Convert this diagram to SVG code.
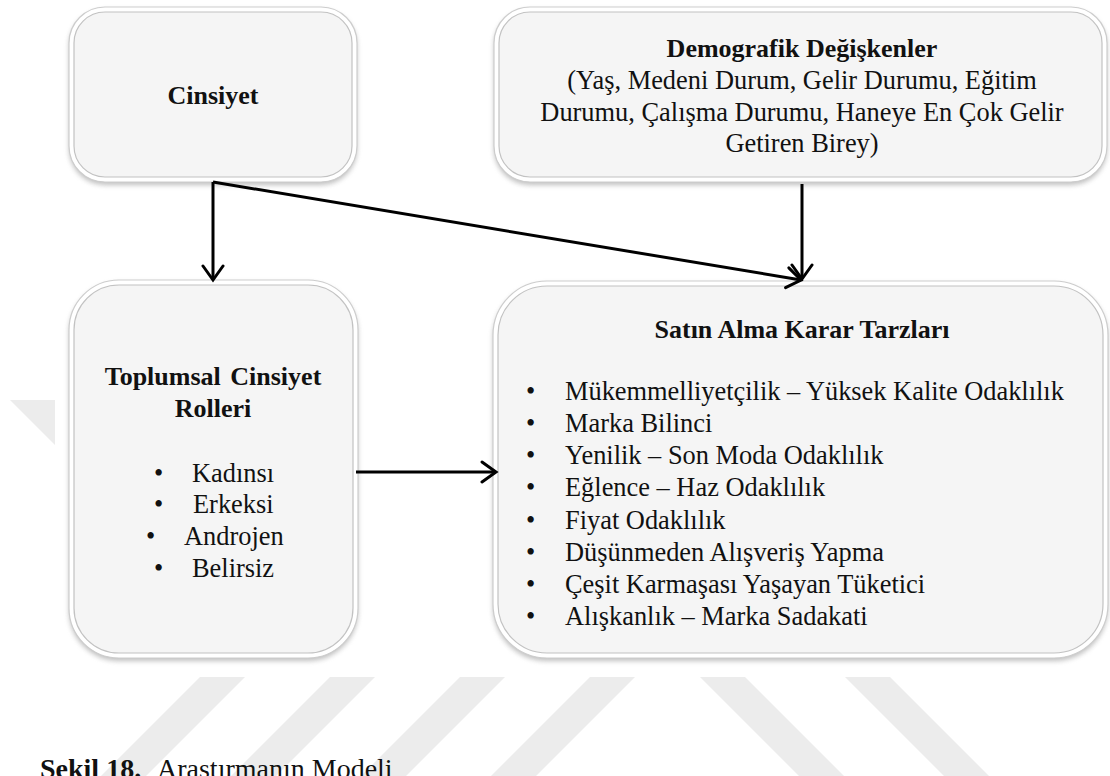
<svg xmlns="http://www.w3.org/2000/svg" width="1110" height="776" viewBox="0 0 1110 776">
  <defs>
    <filter id="soft" x="-10%" y="-10%" width="120%" height="130%">
      <feGaussianBlur stdDeviation="2.5"/>
    </filter>
    <marker id="open" viewBox="0 0 20 24" refX="17" refY="12" markerWidth="20" markerHeight="24" markerUnits="userSpaceOnUse" orient="auto">
      <path d="M3 2 L17 12 L3 22" fill="none" stroke="#000" stroke-width="3" stroke-linecap="round"/>
    </marker>
    <style>
      .wm { fill: #ececec; }
      .shadow { fill: #8c8c8c; opacity: 0.55; filter: url(#soft); }
      .rim { fill: #ffffff; stroke: #cdcdcd; stroke-width: 1.2; }
      .face { fill: #f5f5f5; stroke: #c2c2c2; stroke-width: 1.2; }
      .b, .t { font-family: "Liberation Serif", "Times New Roman", serif; fill: #111; }
      .b { font-weight: bold; font-size: 26px; }
      .t { font-size: 26.4px; }
      .c { text-anchor: middle; }
      .edge { fill: none; stroke: #000; stroke-width: 3; marker-end: url(#open); }
    </style>
  </defs>

  <rect width="1110" height="776" fill="#ffffff"/>

  <!-- background watermark bands -->
  <g id="watermark">
    <polygon class="wm" points="10,400 55,400 55,445"/>
    <polygon class="wm" points="200,677 245,677 146,776 101,776"/>
    <polygon class="wm" points="330,677 375,677 276,776 231,776"/>
    <polygon class="wm" points="460,677 505,677 406,776 361,776"/>
    <polygon class="wm" points="590,677 635,677 536,776 491,776"/>
    <polygon class="wm" points="700,677 745,677 844,776 799,776"/>
    <polygon class="wm" points="845,677 890,677 989,776 944,776"/>
  </g>

  <!-- Cinsiyet -->
  <g id="cinsiyet">
    <rect class="shadow" x="69" y="10" width="288" height="175" rx="36"/>
    <rect class="rim" x="69" y="7" width="288" height="175" rx="36"/>
    <rect class="face" x="74" y="12" width="278" height="165" rx="31"/>
    <text class="b c" x="213" y="104">Cinsiyet</text>
  </g>

  <!-- Demografik Değişkenler -->
  <g id="demografik">
    <rect class="shadow" x="494" y="10" width="613" height="175" rx="36"/>
    <rect class="rim" x="494" y="7" width="613" height="175" rx="36"/>
    <rect class="face" x="499" y="12" width="603" height="165" rx="31"/>
    <text class="b c" x="802" y="57">Demografik Değişkenler</text>
    <text class="t c" x="802" y="89">(Yaş, Medeni Durum, Gelir Durumu, Eğitim</text>
    <text class="t c" x="802" y="121">Durumu, Çalışma Durumu, Haneye En Çok Gelir</text>
    <text class="t c" x="802" y="152">Getiren Birey)</text>
  </g>

  <!-- Toplumsal Cinsiyet Rolleri -->
  <g id="toplumsal">
    <rect class="shadow" x="69" y="283" width="289" height="378" rx="50"/>
    <rect class="rim" x="69" y="280" width="289" height="378" rx="50"/>
    <rect class="face" x="74" y="285" width="279" height="368" rx="45"/>
    <text class="b c" x="213" y="385" word-spacing="3">Toplumsal Cinsiyet</text>
    <text class="b c" x="213" y="417">Rolleri</text>
    <text class="t">
      <tspan x="154" y="482">•</tspan><tspan x="192" y="482">Kadınsı</tspan>
      <tspan x="154" y="513">•</tspan><tspan x="193" y="513">Erkeksi</tspan>
      <tspan x="146" y="545">•</tspan><tspan x="184" y="545">Androjen</tspan>
      <tspan x="154" y="577">•</tspan><tspan x="192" y="577">Belirsiz</tspan>
    </text>
  </g>

  <!-- Satın Alma Karar Tarzları -->
  <g id="satin-alma">
    <rect class="shadow" x="493" y="284" width="615" height="377" rx="54"/>
    <rect class="rim" x="493" y="281" width="615" height="377" rx="54"/>
    <rect class="face" x="498" y="286" width="605" height="367" rx="49"/>
    <text class="b c" x="802" y="338">Satın Alma Karar Tarzları</text>
    <text class="t">
      <tspan x="526" y="400">•</tspan><tspan x="565" y="400">Mükemmelliyetçilik – Yüksek Kalite Odaklılık</tspan>
      <tspan x="526" y="432">•</tspan><tspan x="565" y="432">Marka Bilinci</tspan>
      <tspan x="526" y="464">•</tspan><tspan x="565" y="464">Yenilik – Son Moda Odaklılık</tspan>
      <tspan x="526" y="496">•</tspan><tspan x="565" y="496">Eğlence – Haz Odaklılık</tspan>
      <tspan x="526" y="529">•</tspan><tspan x="565" y="529">Fiyat Odaklılık</tspan>
      <tspan x="526" y="561">•</tspan><tspan x="565" y="561">Düşünmeden Alışveriş Yapma</tspan>
      <tspan x="526" y="593">•</tspan><tspan x="565" y="593">Çeşit Karmaşası Yaşayan Tüketici</tspan>
      <tspan x="526" y="625">•</tspan><tspan x="565" y="625">Alışkanlık – Marka Sadakati</tspan>
    </text>
  </g>

  <!-- connectors -->
  <g id="connectors">
    <line class="edge" x1="213" y1="182" x2="213" y2="280"/>
    <line class="edge" x1="213" y1="182" x2="801" y2="280"/>
    <line class="edge" x1="802" y1="184" x2="802" y2="279"/>
    <line class="edge" x1="356" y1="472" x2="496" y2="472"/>
  </g>

  <!-- caption -->
  <text x="40" y="778" class="t" style="font-size:28px"><tspan font-weight="bold">Şekil 18.</tspan><tspan x="157">Araştırmanın Modeli</tspan></text>
</svg>
